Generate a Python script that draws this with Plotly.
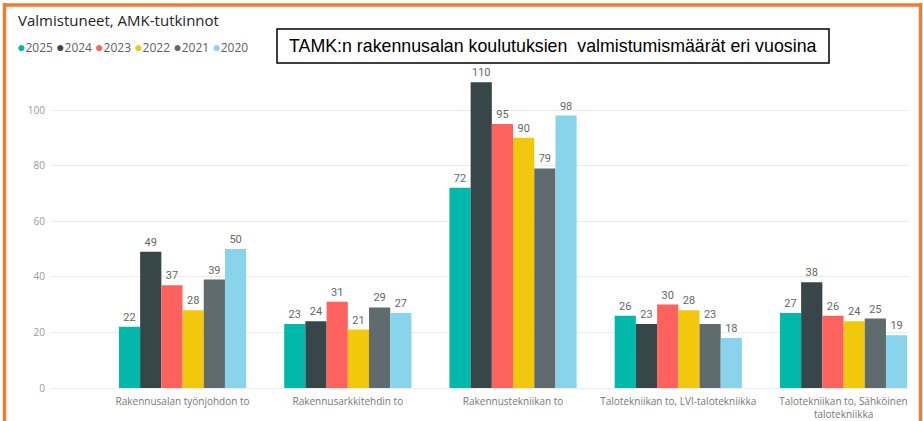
import plotly.graph_objects as go

categories = [
    "Rakennusalan työnjohdon to",
    "Rakennusarkkitehdin to",
    "Rakennustekniikan to",
    "Talotekniikan to, LVI-talotekniikka",
    "Talotekniikan to, Sähköinen<br>talotekniikka",
]
years = ["2025", "2024", "2023", "2022", "2021", "2020"]
values = {
    "2025": [22, 23, 72, 26, 27],
    "2024": [49, 24, 110, 23, 38],
    "2023": [37, 31, 95, 30, 26],
    "2022": [28, 21, 90, 28, 24],
    "2021": [39, 29, 79, 23, 25],
    "2020": [50, 27, 98, 18, 19],
}
colors = ["#01B8AA", "#374649", "#FD625E", "#F2C80F", "#5F6B6D", "#8AD4EB"]
y_ticks = [0, 20, 40, 60, 80, 100]

# page body margin is removed by post_script below, so figure starts at (0,0)
W, H = 923, 421
# plot area in page pixels: x 52..908, y 54..388
L, R, T, B = 52, 923 - 908, 54, 421 - 388
PW, PH = W - L - R, H - T - B


def px_x(p):
    return (p - L) / PW


def px_y(p):
    return (H - B - p) / PH


fig = go.Figure()
xpos = list(range(len(categories)))
for yr, col in zip(years, colors):
    fig.add_trace(go.Bar(
        x=xpos, y=values[yr], name=yr,
        marker=dict(color=col, line=dict(width=0)),
        text=values[yr], textposition="outside",
        textfont=dict(family="Roboto", size=11, color="#666666"),
        cliponaxis=False, showlegend=False,
    ))

fig.update_layout(
    width=W, height=H,
    margin=dict(l=L, r=R, t=T, b=B, autoexpand=False),
    paper_bgcolor="white", plot_bgcolor="white",
    barmode="group", bargap=0.23, bargroupgap=0,
    font=dict(family="Open Sans", color="#666666"),
    xaxis=dict(
        tickmode="array", tickvals=xpos, ticktext=categories,
        range=[-0.79, 4.39], showgrid=False, zeroline=False,
        showline=False, ticks="", automargin=False,
        tickfont=dict(family="Open Sans", size=10, color="#777777"),
        tickangle=0, ticklabelstandoff=6,
    ),
    yaxis=dict(
        range=[0, PH / 2.78], tickvals=y_ticks,
        showgrid=True, gridcolor="#EBEBEB", gridwidth=1,
        zeroline=True, zerolinecolor="#EBEBEB", zerolinewidth=1,
        showline=False, ticks="", automargin=False,
        tickfont=dict(family="Open Sans", size=10, color="#999999"),
        ticklabelstandoff=6,
    ),
)

# Chart title
fig.add_annotation(
    text="Valmistuneet, AMK-tutkinnot", xref="paper", yref="paper",
    x=px_x(16), y=px_y(20), xanchor="left", yanchor="middle",
    showarrow=False, font=dict(family="Open Sans", size=15, color="#252423"),
)

# Legend as text with coloured circles
legend_txt = " ".join(
    f"<span style='color:{c};font-size:14px'>●</span><span style='color:#605E5C'>{y}</span>"
    for y, c in zip(years, colors)
)
fig.add_annotation(
    text=legend_txt, xref="paper", yref="paper",
    x=px_x(15), y=px_y(46), xanchor="left", yanchor="middle",
    showarrow=False, font=dict(family="Open Sans", size=12, color="#605E5C"),
)

# Boxed heading
fig.add_shape(type="rect", xref="paper", yref="paper",
              x0=px_x(277), x1=px_x(829), y0=px_y(63), y1=px_y(29),
              line=dict(color="black", width=1.5), fillcolor="white", layer="above")
fig.add_annotation(
    text="TAMK:n rakennusalan koulutuksien  valmistumismäärät eri vuosina",
    xref="paper", yref="paper", x=px_x(553), y=px_y(46),
    xanchor="center", yanchor="middle", showarrow=False,
    font=dict(family="Liberation Sans", size=17.8, color="black"),
)

# Orange frame
orange = "#ED7D31"
fig.add_shape(type="line", xref="paper", yref="paper",
              x0=px_x(4.5), x1=px_x(4.5), y0=px_y(440), y1=px_y(3),
              line=dict(color=orange, width=3.5), layer="above")
fig.add_shape(type="line", xref="paper", yref="paper",
              x0=px_x(3), x1=px_x(921), y0=px_y(5), y1=px_y(5),
              line=dict(color=orange, width=3.5), layer="above")
fig.add_shape(type="line", xref="paper", yref="paper",
              x0=px_x(920.5), x1=px_x(920.5), y0=px_y(440), y1=px_y(3),
              line=dict(color=orange, width=3.5), layer="above")

fig.write_html(
    "out.html",
    config={"displayModeBar": False},
    post_script="document.body.style.margin='0';document.body.style.overflow='hidden';",
)
